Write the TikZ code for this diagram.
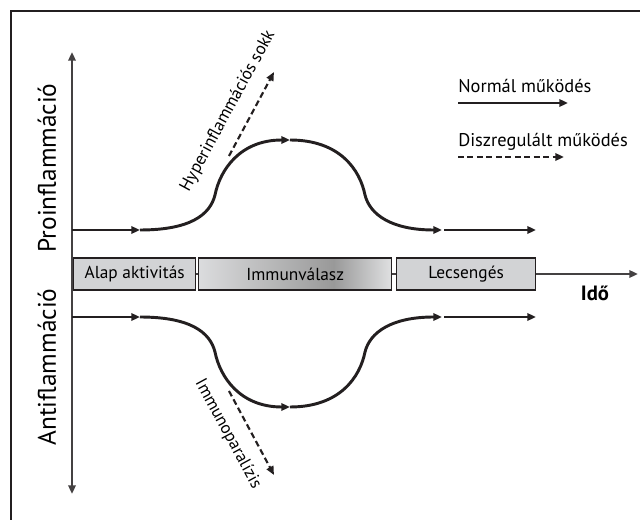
\documentclass[tikz,border=0pt]{standalone}
\usepackage{fontspec}
\setmainfont{PT Sans}
\usetikzlibrary{arrows.meta}
\definecolor{ink}{HTML}{231F20}
\definecolor{boxgray}{HTML}{D2D3D5}
\pgfdeclarehorizontalshading{immun}{100bp}{color(0bp)=(boxgray); color(25bp)=(boxgray!80); color(60bp)=(gray!80); color(75bp)=(boxgray!70); color(100bp)=(boxgray!70)}

\begin{document}
\begin{tikzpicture}[x=.75pt,y=-.75pt,font=\fontsize{13}{15}\selectfont,
  tip/.style={-{Triangle[length=6.5pt,width=5.5pt]}},
  flow/.style={tip,line width=2.2pt,ink},
  dys/.style={tip,line width=1.6pt,ink,dash pattern=on 4.5pt off 2.6pt},
  phase/.style={draw=ink,line width=1pt,fill=boxgray,minimum height=24pt,inner sep=0pt,anchor=west}]
\useasboundingbox (0,0) rectangle (640,520);
\draw[ink,line width=1.2pt] (11,530) |- (650,11);
% tengelyek
\coordinate (ytop) at (72,52);
\coordinate (ybot) at (72,494);
\coordinate (x0) at (72,274);
\coordinate (xend) at (638,274);
\draw[ink!85,line width=2.2pt,tip] (x0) -- (ytop);
\draw[ink!85,line width=2.2pt,tip] (x0) -- (ybot);
\draw[ink!85,line width=1.8pt,tip] (x0) -- (xend);
\node[phase,minimum width=91.5pt] (alap) at (73,274) {Alap aktivitás};
\node[phase,minimum width=144.75pt,shading=immun,shading angle=0] (immun) at (198,274) {Immunválasz};
\node[phase,minimum width=104.25pt] (lecs) at (396,274) {Lecsengés};
\node[font=\bfseries\fontsize{15.5}{17}\selectfont] (ido) at (595,293) {Idő};
\node[rotate=90,font=\fontsize{19}{21}\selectfont] (pro) at (47,168) {Proinflammáció};
\node[rotate=90,font=\fontsize{19}{21}\selectfont] (anti) at (47,367) {Antiflammáció};
% proinflammatorikus ág
\coordinate (p0) at (72,230);
\coordinate (p1) at (140,230);
\coordinate (p2) at (290,140);
\coordinate (p3) at (442,230);
\coordinate (p4) at (536,230);
\draw[flow] (p0) -- (p1);
\draw[flow] (p1) .. controls (190,230) and (210,215) .. (215,195) .. controls (220,170) and (240,140) .. (p2);
\draw[flow] (p2) .. controls (340,140) and (360,170) .. (365,195) .. controls (370,215) and (392,230) .. (p3);
\draw[flow] (p3) ++(2,0) -- (p4);
% antiinflammatorikus ág
\coordinate (a0) at (72,317);
\coordinate (a1) at (140,317);
\coordinate (a2) at (290,407);
\coordinate (a3) at (442,317);
\coordinate (a4) at (536,317);
\draw[flow] (a0) -- (a1);
\draw[flow] (a1) .. controls (190,317) and (210,332) .. (215,352) .. controls (220,377) and (240,407) .. (a2);
\draw[flow] (a2) .. controls (340,407) and (360,377) .. (365,352) .. controls (370,332) and (392,317) .. (a3);
\draw[flow] (a3) ++(2,0) -- (a4);
% diszreguláció
\coordinate (h0) at (229,156);
\coordinate (h1) at (274,72);
\coordinate (i0) at (229,391);
\coordinate (i1) at (274,475);
\draw[dys] (h0) -- (h1);
\draw[dys] (i0) -- (i1);
\node[rotate=61.5,font=\fontsize{13}{15}\selectfont] (hyper) at (228,111) {Hyperinflammációs sokk};
\node[rotate=-61.5,font=\fontsize{12.8}{15}\selectfont] (para) at (228,434) {Immunoparalízis};
% jelmagyarázat
\node[anchor=base west,inner sep=0pt,font=\fontsize{13.8}{16}\selectfont] (norm) at (458,93) {Normál működés};
\node[anchor=base west,inner sep=0pt,font=\fontsize{13.8}{16}\selectfont] (disz) at (458,147) {Diszregulált működés};
\coordinate (n0) at (458,103);
\coordinate (n1) at (568,103);
\coordinate (d0) at (458,157);
\coordinate (d1) at (564,157);
\draw[flow] (n0) -- (n1);
\draw[dys] (d0) -- (d1);
\end{tikzpicture}
\end{document}
